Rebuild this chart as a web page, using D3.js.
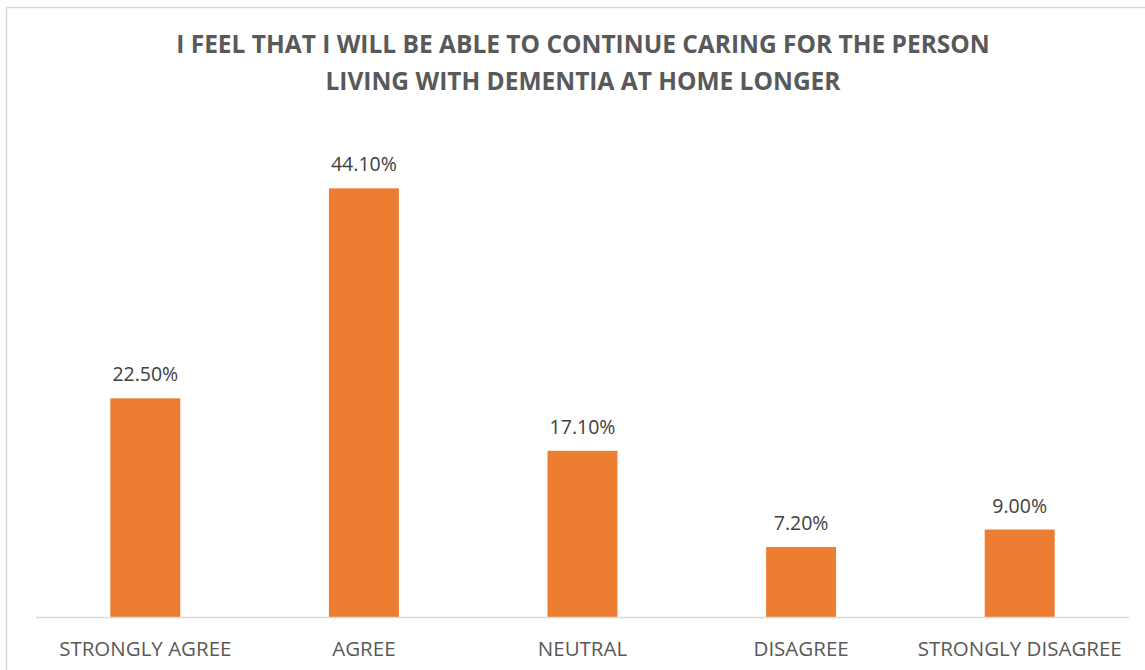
<!DOCTYPE html>
<html>
<head>
<meta charset="utf-8">
<script src="https://cdn.jsdelivr.net/npm/d3@7"></script>
<style>
  html, body { margin: 0; padding: 0; background: #fff; }
  svg { display: block; }
  text { font-family: "Open Sans", "Liberation Sans", sans-serif; }
</style>
</head>
<body>
<svg id="chart" width="1145" height="670"></svg>
<script>
// Survey responses
const categories = ["STRONGLY AGREE", "AGREE", "NEUTRAL", "DISAGREE", "STRONGLY DISAGREE"];
const shares = [22.5, 44.1, 17.1, 7.2, 9.0];
const titleLines = [
  "I FEEL THAT I WILL BE ABLE TO CONTINUE CARING FOR THE PERSON",
  "LIVING WITH DEMENTIA AT HOME LONGER"
];

const svg = d3.select("#chart");
const W = 1145, H = 670;
const margin = { left: 36, right: 16, top: 131, bottom: 53 };
const plotBottom = H - margin.bottom;

// chart frame
svg.append("rect")
  .attr("x", 6.5).attr("y", 7.5)
  .attr("width", 1150).attr("height", 700)
  .attr("fill", "#fff").attr("stroke", "#d9d9d9").attr("stroke-width", 1.5);

const x = d3.scaleBand()
  .domain(categories)
  .range([margin.left, W - margin.right])
  .paddingInner(0.68).paddingOuter(0.34);

const y = d3.scaleLinear()
  .domain([0, 50])
  .range([plotBottom, margin.top]);

// title
svg.append("g").selectAll("text")
  .data(titleLines)
  .join("text")
  .attr("x", 583)
  .attr("y", (d, i) => 53 + i * 37)
  .attr("text-anchor", "middle")
  .attr("font-size", 24.5)
  .attr("font-weight", 700)
  .attr("fill", "#595959")
  .text(d => d);

// bars
svg.append("g").selectAll("rect")
  .data(shares)
  .join("rect")
  .attr("x", (d, i) => x(categories[i]))
  .attr("width", x.bandwidth())
  .attr("y", d => y(d))
  .attr("height", d => y(0) - y(d))
  .attr("fill", "#ED7D31");

// value labels
svg.append("g").selectAll("text")
  .data(shares)
  .join("text")
  .attr("x", (d, i) => x(categories[i]) + x.bandwidth() / 2)
  .attr("y", d => y(d) - 17)
  .attr("text-anchor", "middle")
  .attr("font-size", 19.5)
  .attr("fill", "#404040")
  .text(d => d.toFixed(2) + "%");

// category axis
const axis = svg.append("g")
  .attr("transform", `translate(0,${plotBottom})`)
  .call(d3.axisBottom(x).tickSize(0).tickPadding(0).tickSizeOuter(0));
axis.select(".domain").attr("stroke", "#d9d9d9").attr("stroke-width", 1.5)
  .attr("d", `M${margin.left},0.5H${W - margin.right}`);
axis.selectAll(".tick text")
  .attr("y", 39)
  .attr("dy", 0)
  .attr("font-size", 20.5)
  .attr("font-family", "\"Open Sans\", \"Liberation Sans\", sans-serif")
  .attr("fill", "#595959");
</script>
</body>
</html>
